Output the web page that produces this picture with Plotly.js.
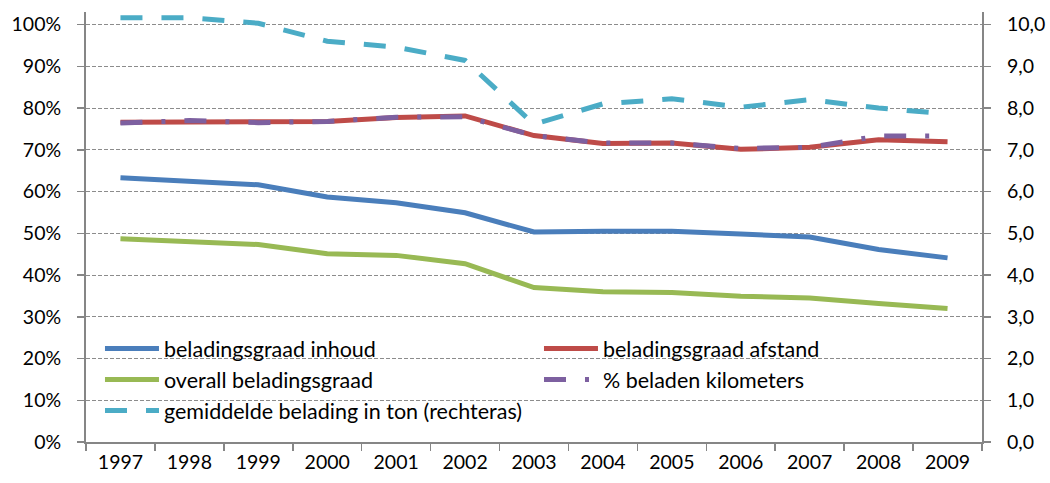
<!DOCTYPE html>
<html><head><meta charset="utf-8">
<script src="https://cdn.plot.ly/plotly-3.0.1.min.js"></script>
<style>body{margin:0;background:#fff}#chart{width:1050px;height:483px}</style>
</head><body><div id="chart"></div>
<script>
const years = ['1997','1998','1999','2000','2001','2002','2003','2004','2005','2006','2007','2008','2009'];
const inhoud = [0.633,0.623,0.616,0.587,0.573,0.549,0.503,0.505,0.505,0.498,0.491,0.461,0.441];
const afstand = [0.766,0.767,0.766,0.768,0.777,0.781,0.734,0.715,0.716,0.701,0.706,0.724,0.719];
const overall = [0.487,0.480,0.473,0.451,0.447,0.427,0.370,0.360,0.358,0.349,0.345,0.332,0.320];
const beladenKm = [0.764,0.770,0.765,0.768,0.778,0.779,0.734,0.716,0.716,0.703,0.706,0.733,0.733];
const tonnen = [10.16,10.16,10.03,9.60,9.46,9.14,7.61,8.10,8.22,8.02,8.20,8.00,7.86];
const leftTicks = [0,0.1,0.2,0.3,0.4,0.5,0.6,0.7,0.8,0.9,1.0];
const rightTicks = [0,1,2,3,4,5,6,7,8,9,10];
const names = ['beladingsgraad inhoud','beladingsgraad afstand','overall beladingsgraad','% beladen kilometers','gemiddelde belading in ton (rechteras)'];

const font = 'Lato, "Open Sans", sans-serif';
const tickFont = {family: font, size: 19.5, color: '#000'};
const traces = [
  {x: years, y: inhoud, name: names[0], type: 'scatter', mode: 'lines', line: {color: '#4A7EBB', width: 5}},
  {x: years, y: afstand, name: names[1], type: 'scatter', mode: 'lines', line: {color: '#BE4B48', width: 5}},
  {x: years, y: overall, name: names[2], type: 'scatter', mode: 'lines', line: {color: '#98B954', width: 5}},
  {x: years, y: beladenKm, name: names[3], type: 'scatter', mode: 'lines', line: {color: '#7D60A0', width: 5, dash: '22px,19px,4px,19px'}},
  {x: years, y: tonnen, name: names[4], type: 'scatter', mode: 'lines', yaxis: 'y2', line: {color: '#4BACC6', width: 5, dash: '22px,19px'}}
];
const layout = {
  width: 1050, height: 483,
  margin: {l: 86, r: 68, t: 11.5, b: 41, autoexpand: false},
  paper_bgcolor: '#fff', plot_bgcolor: '#fff',
  separators: ',.',
  showlegend: true,
  font: {family: font, size: 19.5, color: '#000'},
  xaxis: {
    type: 'category', range: [-0.5, 12.5], tickson: 'boundaries', ticks: 'outside', ticklen: 7, tickcolor: '#868686', tickwidth: 1.5,
    showline: true, linecolor: '#868686', linewidth: 2, showgrid: false, zeroline: false,
    tickfont: tickFont, ticklabelstandoff: 2
  },
  yaxis: {
    range: [0, 1.03], tickvals: leftTicks, tickformat: '.0%', ticks: 'outside', ticklen: 7, tickcolor: '#868686', tickwidth: 1.5,
    showline: true, linecolor: '#868686', linewidth: 2, showgrid: true, gridcolor: '#8c8c8c', griddash: '4px,2px', gridwidth: 1,
    zeroline: false, tickfont: tickFont, ticklabelstandoff: 12
  },
  yaxis2: {
    range: [0, 10.3], tickvals: rightTicks, tickformat: '.1f', overlaying: 'y', side: 'right', ticks: 'outside', ticklen: 7,
    tickcolor: '#868686', tickwidth: 1.5, showline: true, linecolor: '#868686', linewidth: 2, showgrid: false, zeroline: false,
    tickfont: tickFont, ticklabelstandoff: 12
  },
  legend: {
    orientation: 'h', x: 0.0156, y: 0.2648, xanchor: 'left', yanchor: 'top', xref: 'paper', yref: 'paper',
    entrywidth: 370, entrywidthmode: 'pixels', itemwidth: 54, tracegroupgap: 0,
    bgcolor: 'rgba(0,0,0,0)', font: {family: font, size: 21.5, color: '#000'}, traceorder: 'normal'
  }
};
Plotly.newPlot('chart', traces, layout, {displayModeBar: false, staticPlot: true});
</script></body></html>
